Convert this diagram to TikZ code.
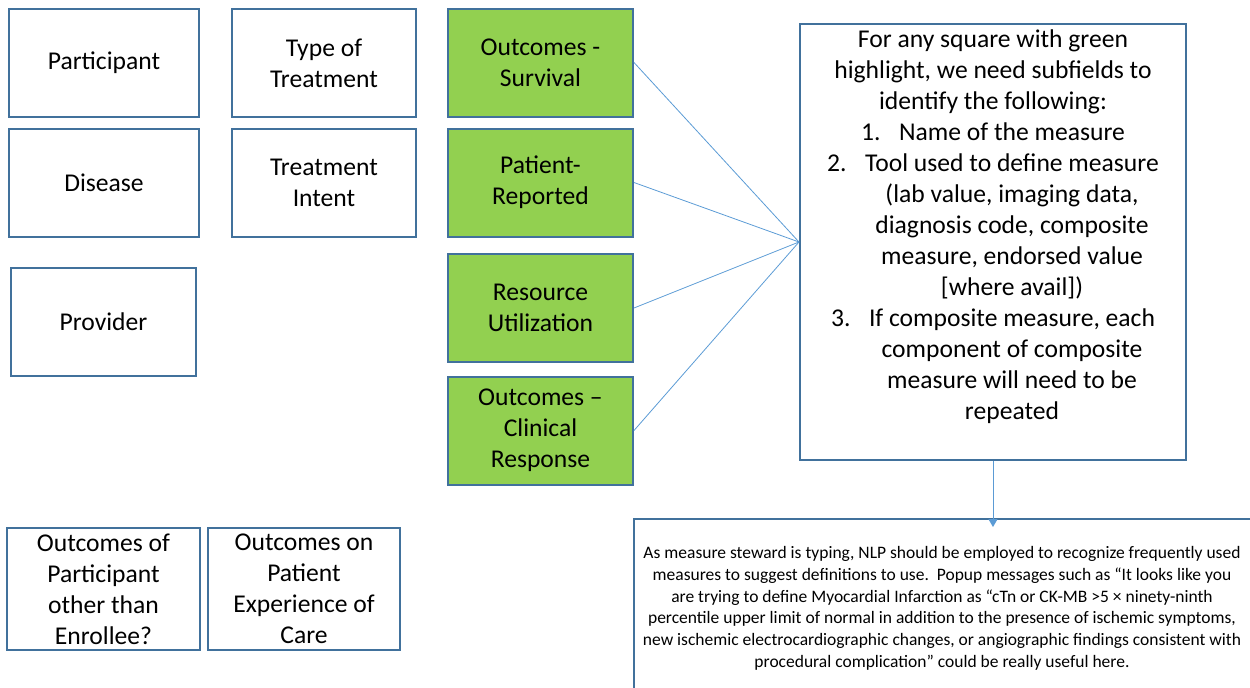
\documentclass[tikz,border=0pt]{standalone}
\usepackage{fontspec}
\setmainfont{Carlito}
\usetikzlibrary{arrows.meta}
\definecolor{boxline}{HTML}{41719C}
\definecolor{hilite}{HTML}{92D050}
\definecolor{linkblue}{HTML}{5B9BD5}
\tikzstyle{every picture}+=[x=0.5pt,y=-0.5pt]
\tikzstyle{every picture}+=[>={Triangle[length=4pt,width=4.5pt]}]
\tikzstyle{every picture}+=[font=\fontsize{12.8}{15.5}\selectfont]
\tikzstyle{field}+=[draw=boxline, fill=white, line width=1pt]
\tikzstyle{field}+=[align=center, inner sep=0pt]
\tikzstyle{field}+=[minimum width=95pt, minimum height=54pt]
\tikzstyle{green field}=[field, fill=hilite, minimum width=92.5pt]
\tikzstyle{plain text}=[align=center, inner sep=0pt]
\tikzstyle{feed}=[linkblue, line width=0.4pt]
\newcommand{\numitem}[1]{\makebox[19pt][l]{#1}}
\newcommand{\contline}{\hspace*{19pt}}

\begin{document}
\begin{tikzpicture}
\useasboundingbox (0,0) rectangle (1250,687);

\node[field] (participant) at (104,63) {Participant};
\node[field, minimum width=92pt] (type) at (324,63) {Type of\\Treatment};
\node[green field] (survival) at (540.5,62.5) {Outcomes -\\Survival};
\node[field] (disease) at (104,183) {Disease};
\node[field, minimum width=92pt] (intent) at (324,183) {Treatment\\Intent};
\node[green field] (reported) at (540.5,182.5) {Patient-\\Reported};
\node[field, minimum width=92.5pt] (provider) at (103.5,322) {Provider};
\node[green field] (resource) at (540.5,308) {Resource\\Utilization};
\node[green field] (clinical) at (540.5,430.5) {Outcomes --\\Clinical\\Response};
\node[field, minimum width=96.5pt, minimum height=61pt] (other) at (103.5,589)
  {Outcomes of\\Participant\\other than\\Enrollee?};
\node[field, minimum width=96pt, minimum height=61pt] (experience) at (304,589)
  {Outcomes on\\Patient\\Experience of\\Care};

\node[field, minimum width=193pt, minimum height=218pt] (note) at (993,242) {};
\node[plain text, anchor=north] (notetext) at (993,29) {%
  For any square with green\\
  highlight, we need subfields to\\
  identify the following:\\
  \numitem{1.}Name of the measure\\
  \numitem{2.}Tool used to define measure\\
  \contline(lab value, imaging data,\\
  \contline diagnosis code, composite\\
  \contline measure, endorsed value\\
  \contline[where avail])\\
  \numitem{3.}If composite measure, each\\
  \contline component of composite\\
  \contline measure will need to be\\
  \contline repeated};

\node[field, minimum width=320pt, minimum height=100pt, anchor=north west] (nlpbox) at (633,518) {};
\node[plain text, anchor=north, font=\fontsize{8.75}{10.9}\selectfont] (nlp) at (942,546) {%
  As measure steward is typing, NLP should be employed to recognize frequently used\\
  measures to suggest definitions to use.\ \ Popup messages such as “It looks like you\\
  are trying to define Myocardial Infarction as “cTn or CK-MB >5 × ninety-ninth\\
  percentile upper limit of normal in addition to the presence of ischemic symptoms,\\
  new ischemic electrocardiographic changes, or angiographic findings consistent with\\
  procedural complication” could be really useful here.};

\coordinate (tip) at (993,527);

\path[feed]
  (survival.east) edge (note.west)
  (reported.east) edge (note.west)
  (resource.east) edge (note.west)
  (clinical.east) edge (note.west)
  ;
\path[feed, line width=0.5pt, ->]
  (note.south) edge (tip)
  ;
\end{tikzpicture}
\end{document}
